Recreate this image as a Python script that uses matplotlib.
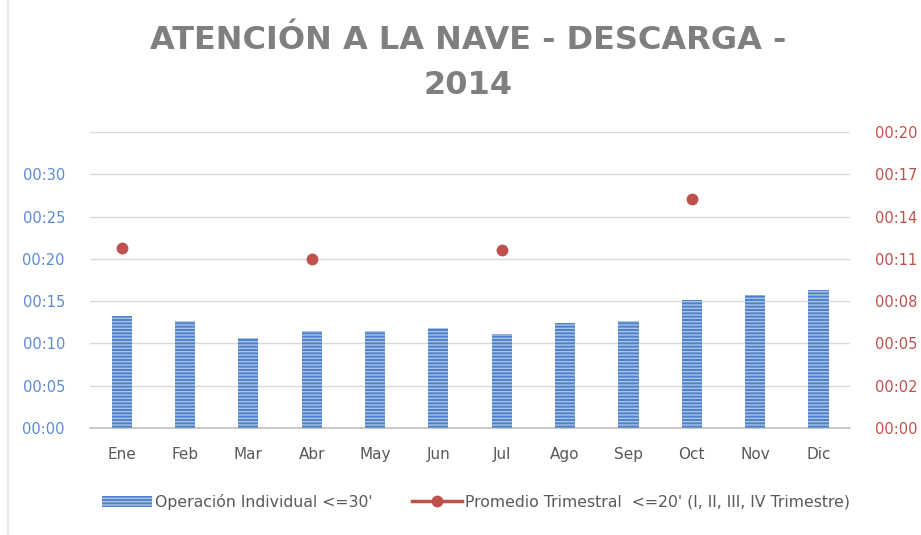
import numpy as np
import matplotlib.pyplot as plt
from matplotlib.ticker import FuncFormatter, FixedLocator

# Data (minutes)
months = ["Ene", "Feb", "Mar", "Abr", "May", "Jun", "Jul", "Ago", "Sep", "Oct", "Nov", "Dic"]
individual = [13.3, 12.6, 10.6, 11.5, 11.5, 11.8, 11.1, 12.4, 12.6, 15.1, 15.7, 16.3]
trimestral = [12.2, np.nan, np.nan, 11.4, np.nan, np.nan, 12.0, np.nan, np.nan, 15.5, np.nan, np.nan]

BLUE = "#4f81c7"
RED = "#c0504d"
GRID = "#d9d9d9"


def hhmm(v, pos=None):
    m = int(np.floor(v + 1e-6))
    return f"{m // 60:02d}:{m % 60:02d}"


fig = plt.figure(figsize=(9.21, 5.35), dpi=100)
ax = fig.add_axes([0.0977, 0.2, 0.8253, 0.553])
ax2 = ax.twinx()

x = np.arange(len(months))
ax.bar(x, individual, width=0.32, color=BLUE, edgecolor="#a9c4ea",
       linewidth=0, hatch="-----", zorder=3, label="Operación Individual <=30'")
ax2.plot(x, trimestral, color=RED, marker="o", markersize=7.5, linewidth=2.5,
         zorder=4, label="Promedio Trimestral  <=20' (I, II, III, IV Trimestre)")

ax.set_xlim(-0.5, len(months) - 0.5)
ax.set_ylim(0, 35)
ax.yaxis.set_major_locator(FixedLocator(np.arange(0, 35, 5)))
ax.yaxis.set_major_formatter(FuncFormatter(hhmm))
for yv in np.arange(0, 36, 5):
    ax.axhline(yv, color=GRID, linewidth=1, zorder=1)

ax2.set_ylim(0, 20)
ax2.yaxis.set_major_locator(FixedLocator(np.linspace(0, 20, 8)))
ax2.yaxis.set_major_formatter(FuncFormatter(hhmm))

ax.set_xticks(x)
ax.set_xticklabels(months)
ax.tick_params(axis="x", length=0, pad=14, labelsize=11, labelcolor="#595959")
ax.tick_params(axis="y", length=0, pad=18, labelsize=10.5, labelcolor="#5b8bd6")
ax2.tick_params(axis="y", length=0, pad=18, labelsize=10.5, labelcolor=RED)

for a in (ax, ax2):
    for s in a.spines.values():
        s.set_visible(False)
ax.spines["bottom"].set_visible(True)
ax.spines["bottom"].set_color("#bfbfbf")
ax.spines["bottom"].set_linewidth(1.2)

title_kw = dict(ha="center", va="center", fontsize=23, fontweight="bold", color="#7f7f7f")
fig.text(0.508, 0.925, "ATENCIÓN A LA NAVE - DESCARGA -", **title_kw)
fig.text(0.508, 0.841, "2014", **title_kw)

h1, l1 = ax.get_legend_handles_labels()
h2, l2 = ax2.get_legend_handles_labels()
fig.legend(h1 + h2, l1 + l2, loc="center", bbox_to_anchor=(0.517, 0.062), ncol=2,
           frameon=False, fontsize=11.3, labelcolor="#595959", handlelength=3.2,
           handletextpad=0.2, columnspacing=2.5)

fig.add_artist(plt.Line2D([0.009, 0.009], [0.0, 1.0], color="#e6e6e6", linewidth=1.5))

fig.savefig("out.png", dpi=100)
